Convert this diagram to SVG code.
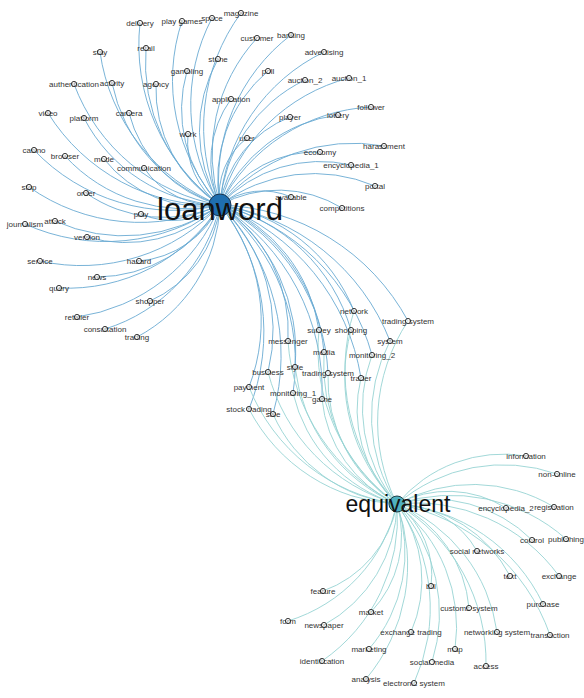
<svg xmlns="http://www.w3.org/2000/svg" width="584" height="698" viewBox="0 0 584 698">
<style>
.le{fill:none;stroke:#6aaad2;stroke-width:0.9}
.ee{fill:none;stroke:#97d4d4;stroke-width:0.9}
.n{fill:#fff;fill-opacity:0.55;stroke:#222;stroke-width:0.9}
.t{font-family:"Liberation Sans",Arial,sans-serif;font-size:8px;fill:#333;text-anchor:middle}
.h{font-family:"Liberation Sans",Arial,sans-serif;fill:#111;text-anchor:middle}
</style>
<rect width="584" height="698" fill="#fff"/>
<g id="edges">
<path class="le" d="M220,205A199,199 0 0 1 140,23"/>
<path class="le" d="M220,205A188,188 0 0 1 182,21"/>
<path class="le" d="M220,205A187,187 0 0 1 212,18"/>
<path class="le" d="M220,205A193,193 0 0 1 241,13"/>
<path class="le" d="M220,205A171,171 0 0 1 257,38"/>
<path class="le" d="M220,205A184,184 0 0 1 291,35"/>
<path class="le" d="M220,205A194,194 0 0 1 100,52"/>
<path class="le" d="M220,205A174,174 0 0 1 146,48"/>
<path class="le" d="M220,205A185,185 0 0 1 324,52"/>
<path class="le" d="M220,205A146,146 0 0 1 218,59"/>
<path class="le" d="M220,205A138,138 0 0 1 187,71"/>
<path class="le" d="M220,205A142,142 0 0 1 268,71"/>
<path class="le" d="M220,205A151,151 0 0 1 305,80"/>
<path class="le" d="M220,205A181,181 0 0 1 349,78"/>
<path class="le" d="M220,205A190,190 0 0 1 74,84"/>
<path class="le" d="M220,205A163,163 0 0 1 112,83"/>
<path class="le" d="M220,205A137,137 0 0 1 156,84"/>
<path class="le" d="M220,205A107,107 0 0 1 231,99"/>
<path class="le" d="M220,205A195,195 0 0 1 48,113"/>
<path class="le" d="M220,205A161,161 0 0 1 84,118"/>
<path class="le" d="M220,205A129,129 0 0 1 129,113"/>
<path class="le" d="M220,205A112,112 0 0 1 290,117"/>
<path class="le" d="M220,205A148,148 0 0 1 338,115"/>
<path class="le" d="M220,205A180,180 0 0 1 371,107"/>
<path class="le" d="M220,205A78,78 0 0 1 188,134"/>
<path class="le" d="M220,205A72,72 0 0 1 247,138"/>
<path class="le" d="M220,205A174,174 0 0 1 384,146"/>
<path class="le" d="M220,205A194,194 0 0 1 34,150"/>
<path class="le" d="M220,205A163,163 0 0 1 65,156"/>
<path class="le" d="M220,205A125,125 0 0 1 104,159"/>
<path class="le" d="M220,205A85,85 0 0 1 144,168"/>
<path class="le" d="M220,205A113,113 0 0 1 320,152"/>
<path class="le" d="M220,205A137,137 0 0 1 351,165"/>
<path class="le" d="M220,205A156,156 0 0 1 375,186"/>
<path class="le" d="M220,205A192,192 0 0 1 29,187"/>
<path class="le" d="M220,205A135,135 0 0 1 86,193"/>
<path class="le" d="M220,205A71,71 0 0 1 291,197"/>
<path class="le" d="M220,205A80,80 0 0 1 141,214"/>
<path class="le" d="M220,205A122,122 0 0 1 342,208"/>
<path class="le" d="M220,205A196,196 0 0 1 25,224"/>
<path class="le" d="M220,205A166,166 0 0 1 55,221"/>
<path class="le" d="M220,205A137,137 0 0 1 87,237"/>
<path class="le" d="M220,205A189,189 0 0 1 40,261"/>
<path class="le" d="M220,205A99,99 0 0 1 139,261"/>
<path class="le" d="M220,205A143,143 0 0 1 97,277"/>
<path class="le" d="M220,205A181,181 0 0 1 59,288"/>
<path class="le" d="M220,205A119,119 0 0 1 150,301"/>
<path class="le" d="M220,205A182,182 0 0 1 77,317"/>
<path class="le" d="M220,205A169,169 0 0 1 105,329"/>
<path class="le" d="M220,205A156,156 0 0 1 137,337"/>
<path class="le" d="M220,205A171,171 0 0 1 354,311"/>
<path class="le" d="M220,205A221,221 0 0 1 408,321"/>
<path class="le" d="M220,205A160,160 0 0 1 319,330"/>
<path class="le" d="M220,205A181,181 0 0 1 351,330"/>
<path class="le" d="M220,205A218,218 0 0 1 390,341"/>
<path class="le" d="M220,205A152,152 0 0 1 288,341"/>
<path class="le" d="M220,205A180,180 0 0 1 324,352"/>
<path class="le" d="M220,205A214,214 0 0 1 372,355"/>
<path class="le" d="M220,205A174,174 0 0 1 268,372"/>
<path class="le" d="M220,205A179,179 0 0 1 295,367"/>
<path class="le" d="M220,205A200,200 0 0 1 328,373"/>
<path class="le" d="M220,205A223,223 0 0 1 361,378"/>
<path class="le" d="M220,205A184,184 0 0 1 249,387"/>
<path class="le" d="M220,205A202,202 0 0 1 293,393"/>
<path class="le" d="M220,205A219,219 0 0 1 322,399"/>
<path class="le" d="M220,205A206,206 0 0 1 249,409"/>
<path class="le" d="M220,205A216,216 0 0 1 273,414"/>
<path class="ee" d="M397,504A198,198 0 0 1 354,311"/>
<path class="ee" d="M397,504A183,183 0 0 1 408,321"/>
<path class="ee" d="M397,504A191,191 0 0 1 319,330"/>
<path class="ee" d="M397,504A180,180 0 0 1 351,330"/>
<path class="ee" d="M397,504A163,163 0 0 1 390,341"/>
<path class="ee" d="M397,504A196,196 0 0 1 288,341"/>
<path class="ee" d="M397,504A169,169 0 0 1 324,352"/>
<path class="ee" d="M397,504A151,151 0 0 1 372,355"/>
<path class="ee" d="M397,504A185,185 0 0 1 268,372"/>
<path class="ee" d="M397,504A171,171 0 0 1 295,367"/>
<path class="ee" d="M397,504A148,148 0 0 1 328,373"/>
<path class="ee" d="M397,504A131,131 0 0 1 361,378"/>
<path class="ee" d="M397,504A189,189 0 0 1 249,387"/>
<path class="ee" d="M397,504A152,152 0 0 1 293,393"/>
<path class="ee" d="M397,504A129,129 0 0 1 322,399"/>
<path class="ee" d="M397,504A176,176 0 0 1 249,409"/>
<path class="ee" d="M397,504A153,153 0 0 1 273,414"/>
<path class="ee" d="M397,504A138,138 0 0 1 526,456"/>
<path class="ee" d="M397,504A163,163 0 0 1 557,474"/>
<path class="ee" d="M397,504A109,109 0 0 1 506,508"/>
<path class="ee" d="M397,504A157,157 0 0 1 554,507"/>
<path class="ee" d="M397,504A140,140 0 0 1 532,540"/>
<path class="ee" d="M397,504A173,173 0 0 1 566,539"/>
<path class="ee" d="M397,504A93,93 0 0 1 477,551"/>
<path class="ee" d="M397,504A134,134 0 0 1 510,576"/>
<path class="ee" d="M397,504A177,177 0 0 1 559,576"/>
<path class="ee" d="M397,504A89,89 0 0 1 431,586"/>
<path class="ee" d="M397,504A177,177 0 0 1 543,604"/>
<path class="ee" d="M397,504A127,127 0 0 1 469,608"/>
<path class="ee" d="M397,504A201,201 0 0 1 550,635"/>
<path class="ee" d="M397,504A162,162 0 0 1 497,632"/>
<path class="ee" d="M397,504A129,129 0 0 1 411,632"/>
<path class="ee" d="M397,504A156,156 0 0 1 455,649"/>
<path class="ee" d="M397,504A185,185 0 0 1 486,666"/>
<path class="ee" d="M397,504A162,162 0 0 1 432,662"/>
<path class="ee" d="M397,504A180,180 0 0 1 414,683"/>
<path class="ee" d="M397,504A178,178 0 0 1 366,679"/>
<path class="ee" d="M397,504A174,174 0 0 1 322,661"/>
<path class="ee" d="M397,504A148,148 0 0 1 369,649"/>
<path class="ee" d="M397,504A141,141 0 0 1 324,625"/>
<path class="ee" d="M397,504A111,111 0 0 1 371,612"/>
<path class="ee" d="M397,504A114,114 0 0 1 323,591"/>
<path class="ee" d="M397,504A160,160 0 0 1 288,621"/>
</g>
<g id="nodes">
<g id="n-delivery"><text class="t" x="140" y="26">delivery</text><circle class="n" cx="140" cy="23" r="2.6"/></g>
<g id="n-play-games"><text class="t" x="182" y="24">play games</text><circle class="n" cx="182" cy="21" r="2.6"/></g>
<g id="n-space"><text class="t" x="212" y="21">space</text><circle class="n" cx="212" cy="18" r="2.6"/></g>
<g id="n-magazine"><text class="t" x="241" y="16">magazine</text><circle class="n" cx="241" cy="13" r="2.6"/></g>
<g id="n-customer"><text class="t" x="257" y="41">customer</text><circle class="n" cx="257" cy="38" r="2.6"/></g>
<g id="n-banking"><text class="t" x="291" y="38">banking</text><circle class="n" cx="291" cy="35" r="2.6"/></g>
<g id="n-stay"><text class="t" x="100" y="55">stay</text><circle class="n" cx="100" cy="52" r="2.6"/></g>
<g id="n-retail"><text class="t" x="146" y="51">retail</text><circle class="n" cx="146" cy="48" r="2.6"/></g>
<g id="n-advertising"><text class="t" x="324" y="55">advertising</text><circle class="n" cx="324" cy="52" r="2.6"/></g>
<g id="n-stone"><text class="t" x="218" y="62">stone</text><circle class="n" cx="218" cy="59" r="2.6"/></g>
<g id="n-gambling"><text class="t" x="187" y="74">gambling</text><circle class="n" cx="187" cy="71" r="2.6"/></g>
<g id="n-poll"><text class="t" x="268" y="74">poll</text><circle class="n" cx="268" cy="71" r="2.6"/></g>
<g id="n-auction_2"><text class="t" x="305" y="83">auction_2</text><circle class="n" cx="305" cy="80" r="2.6"/></g>
<g id="n-auction_1"><text class="t" x="349" y="81">auction_1</text><circle class="n" cx="349" cy="78" r="2.6"/></g>
<g id="n-authentication"><text class="t" x="74" y="87">authentication</text><circle class="n" cx="74" cy="84" r="2.6"/></g>
<g id="n-activity"><text class="t" x="112" y="86">activity</text><circle class="n" cx="112" cy="83" r="2.6"/></g>
<g id="n-agency"><text class="t" x="156" y="87">agency</text><circle class="n" cx="156" cy="84" r="2.6"/></g>
<g id="n-application"><text class="t" x="231" y="102">application</text><circle class="n" cx="231" cy="99" r="2.6"/></g>
<g id="n-video"><text class="t" x="48" y="116">video</text><circle class="n" cx="48" cy="113" r="2.6"/></g>
<g id="n-platform"><text class="t" x="84" y="121">platform</text><circle class="n" cx="84" cy="118" r="2.6"/></g>
<g id="n-camera"><text class="t" x="129" y="116">camera</text><circle class="n" cx="129" cy="113" r="2.6"/></g>
<g id="n-player"><text class="t" x="290" y="120">player</text><circle class="n" cx="290" cy="117" r="2.6"/></g>
<g id="n-lottery"><text class="t" x="338" y="118">lottery</text><circle class="n" cx="338" cy="115" r="2.6"/></g>
<g id="n-follower"><text class="t" x="371" y="110">follower</text><circle class="n" cx="371" cy="107" r="2.6"/></g>
<g id="n-work"><text class="t" x="188" y="137">work</text><circle class="n" cx="188" cy="134" r="2.6"/></g>
<g id="n-user"><text class="t" x="247" y="141">user</text><circle class="n" cx="247" cy="138" r="2.6"/></g>
<g id="n-harassment"><text class="t" x="384" y="149">harassment</text><circle class="n" cx="384" cy="146" r="2.6"/></g>
<g id="n-casino"><text class="t" x="34" y="153">casino</text><circle class="n" cx="34" cy="150" r="2.6"/></g>
<g id="n-browser"><text class="t" x="65" y="159">browser</text><circle class="n" cx="65" cy="156" r="2.6"/></g>
<g id="n-mode"><text class="t" x="104" y="162">mode</text><circle class="n" cx="104" cy="159" r="2.6"/></g>
<g id="n-communication"><text class="t" x="144" y="171">communication</text><circle class="n" cx="144" cy="168" r="2.6"/></g>
<g id="n-economy"><text class="t" x="320" y="155">economy</text><circle class="n" cx="320" cy="152" r="2.6"/></g>
<g id="n-encyclopedia_1"><text class="t" x="351" y="168">encyclopedia_1</text><circle class="n" cx="351" cy="165" r="2.6"/></g>
<g id="n-portal"><text class="t" x="375" y="189">portal</text><circle class="n" cx="375" cy="186" r="2.6"/></g>
<g id="n-stop"><text class="t" x="29" y="190">stop</text><circle class="n" cx="29" cy="187" r="2.6"/></g>
<g id="n-order"><text class="t" x="86" y="196">order</text><circle class="n" cx="86" cy="193" r="2.6"/></g>
<g id="n-available"><text class="t" x="291" y="200">available</text><circle class="n" cx="291" cy="197" r="2.6"/></g>
<g id="n-play"><text class="t" x="141" y="217">play</text><circle class="n" cx="141" cy="214" r="2.6"/></g>
<g id="n-competitions"><text class="t" x="342" y="211">competitions</text><circle class="n" cx="342" cy="208" r="2.6"/></g>
<g id="n-journalism"><text class="t" x="25" y="227">journalism</text><circle class="n" cx="25" cy="224" r="2.6"/></g>
<g id="n-attack"><text class="t" x="55" y="224">attack</text><circle class="n" cx="55" cy="221" r="2.6"/></g>
<g id="n-version"><text class="t" x="87" y="240">version</text><circle class="n" cx="87" cy="237" r="2.6"/></g>
<g id="n-service"><text class="t" x="40" y="264">service</text><circle class="n" cx="40" cy="261" r="2.6"/></g>
<g id="n-hazard"><text class="t" x="139" y="264">hazard</text><circle class="n" cx="139" cy="261" r="2.6"/></g>
<g id="n-news"><text class="t" x="97" y="280">news</text><circle class="n" cx="97" cy="277" r="2.6"/></g>
<g id="n-query"><text class="t" x="59" y="291">query</text><circle class="n" cx="59" cy="288" r="2.6"/></g>
<g id="n-shopper"><text class="t" x="150" y="304">shopper</text><circle class="n" cx="150" cy="301" r="2.6"/></g>
<g id="n-retailer"><text class="t" x="77" y="320">retailer</text><circle class="n" cx="77" cy="317" r="2.6"/></g>
<g id="n-consultation"><text class="t" x="105" y="332">consultation</text><circle class="n" cx="105" cy="329" r="2.6"/></g>
<g id="n-trading"><text class="t" x="137" y="340">trading</text><circle class="n" cx="137" cy="337" r="2.6"/></g>
<g id="n-network"><text class="t" x="354" y="314">network</text><circle class="n" cx="354" cy="311" r="2.6"/></g>
<g id="n-trading-system-a"><text class="t" x="408" y="324">trading system</text><circle class="n" cx="408" cy="321" r="2.6"/></g>
<g id="n-survey"><text class="t" x="319" y="333">survey</text><circle class="n" cx="319" cy="330" r="2.6"/></g>
<g id="n-shopping"><text class="t" x="351" y="333">shopping</text><circle class="n" cx="351" cy="330" r="2.6"/></g>
<g id="n-system"><text class="t" x="390" y="344">system</text><circle class="n" cx="390" cy="341" r="2.6"/></g>
<g id="n-messenger"><text class="t" x="288" y="344">messenger</text><circle class="n" cx="288" cy="341" r="2.6"/></g>
<g id="n-media"><text class="t" x="324" y="355">media</text><circle class="n" cx="324" cy="352" r="2.6"/></g>
<g id="n-monitoring_2"><text class="t" x="372" y="358">monitoring_2</text><circle class="n" cx="372" cy="355" r="2.6"/></g>
<g id="n-business"><text class="t" x="268" y="375">business</text><circle class="n" cx="268" cy="372" r="2.6"/></g>
<g id="n-style"><text class="t" x="295" y="370">style</text><circle class="n" cx="295" cy="367" r="2.6"/></g>
<g id="n-trading-system-b"><text class="t" x="328" y="376">trading system</text><circle class="n" cx="328" cy="373" r="2.6"/></g>
<g id="n-trader"><text class="t" x="361" y="381">trader</text><circle class="n" cx="361" cy="378" r="2.6"/></g>
<g id="n-payment"><text class="t" x="249" y="390">payment</text><circle class="n" cx="249" cy="387" r="2.6"/></g>
<g id="n-monitoring_1"><text class="t" x="293" y="396">monitoring_1</text><circle class="n" cx="293" cy="393" r="2.6"/></g>
<g id="n-game"><text class="t" x="322" y="402">game</text><circle class="n" cx="322" cy="399" r="2.6"/></g>
<g id="n-stock-trading"><text class="t" x="249" y="412">stock trading</text><circle class="n" cx="249" cy="409" r="2.6"/></g>
<g id="n-sale"><text class="t" x="273" y="417">sale</text><circle class="n" cx="273" cy="414" r="2.6"/></g>
<g id="n-information"><text class="t" x="526" y="459">information</text><circle class="n" cx="526" cy="456" r="2.6"/></g>
<g id="n-non-online"><text class="t" x="557" y="477">non-online</text><circle class="n" cx="557" cy="474" r="2.6"/></g>
<g id="n-encyclopedia_2"><text class="t" x="506" y="511">encyclopedia_2</text><circle class="n" cx="506" cy="508" r="2.6"/></g>
<g id="n-registration"><text class="t" x="554" y="510">registration</text><circle class="n" cx="554" cy="507" r="2.6"/></g>
<g id="n-control"><text class="t" x="532" y="543">control</text><circle class="n" cx="532" cy="540" r="2.6"/></g>
<g id="n-publishing"><text class="t" x="566" y="542">publishing</text><circle class="n" cx="566" cy="539" r="2.6"/></g>
<g id="n-social-networks"><text class="t" x="477" y="554">social networks</text><circle class="n" cx="477" cy="551" r="2.6"/></g>
<g id="n-text"><text class="t" x="510" y="579">text</text><circle class="n" cx="510" cy="576" r="2.6"/></g>
<g id="n-exchange"><text class="t" x="559" y="579">exchange</text><circle class="n" cx="559" cy="576" r="2.6"/></g>
<g id="n-bill"><text class="t" x="431" y="589">bill</text><circle class="n" cx="431" cy="586" r="2.6"/></g>
<g id="n-purchase"><text class="t" x="543" y="607">purchase</text><circle class="n" cx="543" cy="604" r="2.6"/></g>
<g id="n-customs-system"><text class="t" x="469" y="611">customs system</text><circle class="n" cx="469" cy="608" r="2.6"/></g>
<g id="n-transaction"><text class="t" x="550" y="638">transaction</text><circle class="n" cx="550" cy="635" r="2.6"/></g>
<g id="n-networking-system"><text class="t" x="497" y="635">networking system</text><circle class="n" cx="497" cy="632" r="2.6"/></g>
<g id="n-exchange-trading"><text class="t" x="411" y="635">exchange trading</text><circle class="n" cx="411" cy="632" r="2.6"/></g>
<g id="n-map"><text class="t" x="455" y="652">map</text><circle class="n" cx="455" cy="649" r="2.6"/></g>
<g id="n-access"><text class="t" x="486" y="669">access</text><circle class="n" cx="486" cy="666" r="2.6"/></g>
<g id="n-social-media"><text class="t" x="432" y="665">social media</text><circle class="n" cx="432" cy="662" r="2.6"/></g>
<g id="n-electronic-system"><text class="t" x="414" y="686">electronic system</text><circle class="n" cx="414" cy="683" r="2.6"/></g>
<g id="n-analysis"><text class="t" x="366" y="682">analysis</text><circle class="n" cx="366" cy="679" r="2.6"/></g>
<g id="n-identification"><text class="t" x="322" y="664">identification</text><circle class="n" cx="322" cy="661" r="2.6"/></g>
<g id="n-marketing"><text class="t" x="369" y="652">marketing</text><circle class="n" cx="369" cy="649" r="2.6"/></g>
<g id="n-newspaper"><text class="t" x="324" y="628">newspaper</text><circle class="n" cx="324" cy="625" r="2.6"/></g>
<g id="n-market"><text class="t" x="371" y="615">market</text><circle class="n" cx="371" cy="612" r="2.6"/></g>
<g id="n-feature"><text class="t" x="323" y="594">feature</text><circle class="n" cx="323" cy="591" r="2.6"/></g>
<g id="n-form"><text class="t" x="288" y="624">form</text><circle class="n" cx="288" cy="621" r="2.6"/></g>
<g id="n-loanword"><circle cx="220" cy="205" r="11" fill="#1f6fb0" stroke="#1a3550" stroke-width="1"/><text class="h" x="220" y="220" font-size="31">loanword</text></g>
<g id="n-equivalent"><circle cx="397" cy="504" r="8" fill="#4fb0bf" stroke="#1f3f48" stroke-width="1"/><text class="h" x="398" y="512" font-size="23">equivalent</text></g>
</g>
</svg>
